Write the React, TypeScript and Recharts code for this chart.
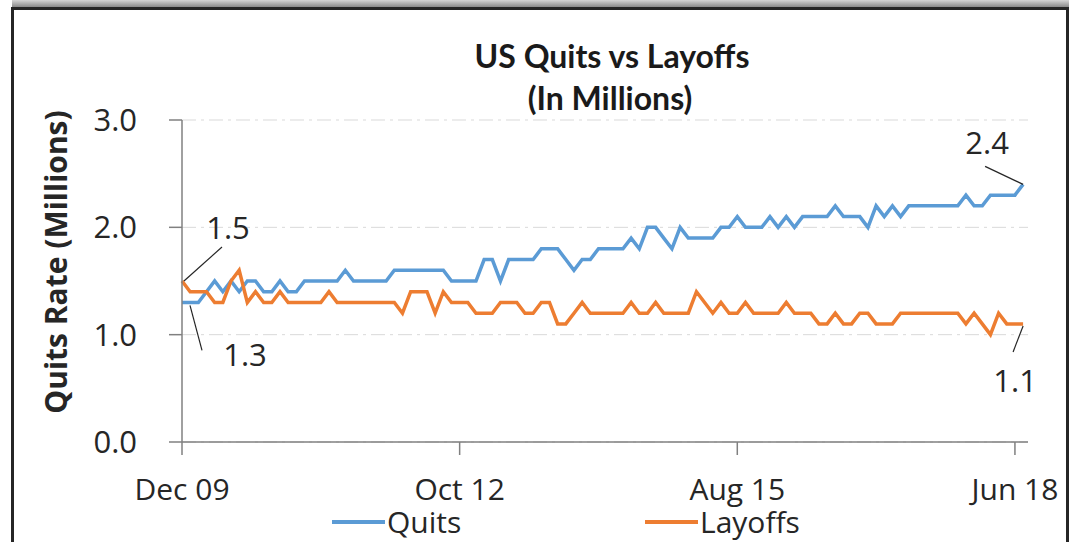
import {
  CartesianGrid,
  Label,
  LabelList,
  Line,
  LineChart,
  XAxis,
  YAxis,
} from "recharts";

// months since Dec 09 (0 = Dec 09, 103 = Jul 18)
const tickMonths = [0, 34, 68, 102];
const tickLabels = ["Dec 09", "Oct 12", "Aug 15", "Jun 18"];
const yTicks = [0, 1, 2, 3];

const quits = [
  1.3, 1.3, 1.3, 1.4, 1.5, 1.4, 1.5, 1.4, 1.5, 1.5,
  1.4, 1.4, 1.5, 1.4, 1.4, 1.5, 1.5, 1.5, 1.5, 1.5,
  1.6, 1.5, 1.5, 1.5, 1.5, 1.5, 1.6, 1.6, 1.6, 1.6,
  1.6, 1.6, 1.6, 1.5, 1.5, 1.5, 1.5, 1.7, 1.7, 1.5,
  1.7, 1.7, 1.7, 1.7, 1.8, 1.8, 1.8, 1.7, 1.6, 1.7,
  1.7, 1.8, 1.8, 1.8, 1.8, 1.9, 1.8, 2.0, 2.0, 1.9,
  1.8, 2.0, 1.9, 1.9, 1.9, 1.9, 2.0, 2.0, 2.1, 2.0,
  2.0, 2.0, 2.1, 2.0, 2.1, 2.0, 2.1, 2.1, 2.1, 2.1,
  2.2, 2.1, 2.1, 2.1, 2.0, 2.2, 2.1, 2.2, 2.1, 2.2,
  2.2, 2.2, 2.2, 2.2, 2.2, 2.2, 2.3, 2.2, 2.2, 2.3,
  2.3, 2.3, 2.3, 2.4,
];

const layoffs = [
  1.5, 1.4, 1.4, 1.4, 1.3, 1.3, 1.5, 1.6, 1.3, 1.4,
  1.3, 1.3, 1.4, 1.3, 1.3, 1.3, 1.3, 1.3, 1.4, 1.3,
  1.3, 1.3, 1.3, 1.3, 1.3, 1.3, 1.3, 1.2, 1.4, 1.4,
  1.4, 1.2, 1.4, 1.3, 1.3, 1.3, 1.2, 1.2, 1.2, 1.3,
  1.3, 1.3, 1.2, 1.2, 1.3, 1.3, 1.1, 1.1, 1.2, 1.3,
  1.2, 1.2, 1.2, 1.2, 1.2, 1.3, 1.2, 1.2, 1.3, 1.2,
  1.2, 1.2, 1.2, 1.4, 1.3, 1.2, 1.3, 1.2, 1.2, 1.3,
  1.2, 1.2, 1.2, 1.2, 1.3, 1.2, 1.2, 1.2, 1.1, 1.1,
  1.2, 1.1, 1.1, 1.2, 1.2, 1.1, 1.1, 1.1, 1.2, 1.2,
  1.2, 1.2, 1.2, 1.2, 1.2, 1.2, 1.1, 1.2, 1.1, 1.0,
  1.2, 1.1, 1.1, 1.1,
];

const chartData = quits.map((q, i) => ({
  month: i,
  quits: q,
  layoffs: layoffs[i],
}));
const lastIndex = quits.length - 1;

const QUITS_COLOR = "#5B9BD5";
const LAYOFFS_COLOR = "#ED7D31";
const AXIS_COLOR = "#808080";
const TEXT_COLOR = "#262626";
const FONT = "'Open Sans', 'DejaVu Sans', sans-serif";

// offsets of the end-point callouts, relative to the point
type Callout = {
  tx: number;
  ty: number;
  x1: number;
  y1: number;
  x2: number;
  y2: number;
};

const quitsCallouts: { first: Callout; last: Callout } = {
  first: { tx: 63, ty: 53, x1: 8, y1: 3, x2: 20, y2: 48 },
  last: { tx: -36, ty: -41, x1: -38, y1: -18, x2: 0, y2: 0 },
};

const layoffsCallouts: { first: Callout; last: Callout } = {
  first: { tx: 46, ty: -53, x1: 2, y1: 0, x2: 40, y2: -34 },
  last: { tx: -8, ty: 57, x1: 0, y1: 2, x2: -10, y2: 28 },
};

function calloutLabel(callouts: { first: Callout; last: Callout }) {
  return (props: any) => {
    const { index, value } = props;
    const vb = props.viewBox ?? {};
    const x = Number(props.x ?? vb.x);
    const y = Number(props.y ?? vb.y);
    const c =
      index === 0 ? callouts.first : index === lastIndex ? callouts.last : null;
    if (!c || !Number.isFinite(x) || !Number.isFinite(y)) return null;
    return (
      <g>
        <line
          x1={x + c.x1}
          y1={y + c.y1}
          x2={x + c.x2}
          y2={y + c.y2}
          stroke={TEXT_COLOR}
          strokeWidth={1.2}
        />
        <text
          x={x + c.tx}
          y={y + c.ty + 11}
          textAnchor="middle"
          fontFamily={FONT}
          fontWeight={400}
          fontSize={31}
          fill={TEXT_COLOR}
        >
          {Number(value).toFixed(1)}
        </text>
      </g>
    );
  };
}

function YTitle(props: any) {
  const vb = props.viewBox ?? { x: 0, y: 120, width: 182, height: 322 };
  const cx = vb.x + 55;
  const cy = vb.y + vb.height / 2 - 19;
  return (
    <text
      x={cx}
      y={cy}
      transform={`rotate(-90 ${cx} ${cy})`}
      textAnchor="middle"
      dominantBaseline="central"
      fontFamily={FONT}
      fontWeight={700}
      fontSize={30}
      fill={TEXT_COLOR}
    >
      Quits Rate (Millions)
    </text>
  );
}

function LegendItem({
  left,
  color,
  text,
}: {
  left: number;
  color: string;
  text: string;
}) {
  return (
    <div
      style={{
        position: "absolute",
        left,
        top: 507,
        display: "flex",
        alignItems: "center",
        fontFamily: FONT,
        fontSize: 30,
        lineHeight: "30px",
        color: TEXT_COLOR,
      }}
    >
      <span
        style={{
          display: "inline-block",
          width: 53,
          height: 4,
          background: color,
          marginRight: 2,
        }}
      />
      {text}
    </div>
  );
}

export default function App() {
  return (
    <div
      style={{
        position: "relative",
        width: 1071,
        height: 542,
        overflow: "hidden",
        background: "#fff",
      }}
    >
      <style>{"body{margin:0}"}</style>
      <div
        style={{
          position: "absolute",
          left: 12,
          top: 0,
          width: 1057,
          height: 7,
          background: "linear-gradient(#d6d6d6, #8a8a8a)",
        }}
      />
      <div
        style={{
          position: "absolute",
          left: 11,
          top: 7,
          width: 1058,
          height: 600,
          border: "3px solid #262626",
          boxSizing: "border-box",
        }}
      />
      <div style={{ position: "absolute", left: 0, top: 0 }}>
        <LineChart
          width={1071}
          height={542}
          data={chartData}
          margin={{ top: 120, right: 43, bottom: 0, left: 0 }}
        >
          <CartesianGrid
            vertical={false}
            stroke="#d9d9d9"
            strokeDasharray="14 5 3 5"
          />
          <XAxis
            dataKey="month"
            type="number"
            domain={[0, 103.6]}
            ticks={tickMonths}
            interval={0}
            height={100}
            tickFormatter={(v) => tickLabels[tickMonths.indexOf(Number(v))] ?? ""}
            tick={{ fill: TEXT_COLOR, fontSize: 30, fontFamily: FONT }}
            tickSize={13}
            tickMargin={24}
            axisLine={{ stroke: AXIS_COLOR, strokeWidth: 1.5 }}
            tickLine={{ stroke: AXIS_COLOR, strokeWidth: 1.5 }}
          />
          <YAxis
            width={182}
            domain={[0, 3]}
            ticks={yTicks}
            interval={0}
            tickFormatter={(v) => Number(v).toFixed(1)}
            tick={{ fill: TEXT_COLOR, fontSize: 31, fontFamily: FONT }}
            tickSize={13}
            tickMargin={32}
            axisLine={{ stroke: AXIS_COLOR, strokeWidth: 1.5 }}
            tickLine={{ stroke: AXIS_COLOR, strokeWidth: 1.5 }}
          >
            <Label content={<YTitle />} />
          </YAxis>
          <Line
            dataKey="quits"
            stroke={QUITS_COLOR}
            strokeWidth={3.5}
            dot={false}
            activeDot={false}
            isAnimationActive={false}
          >
            <LabelList dataKey="quits" content={calloutLabel(quitsCallouts)} />
          </Line>
          <Line
            dataKey="layoffs"
            stroke={LAYOFFS_COLOR}
            strokeWidth={3.5}
            dot={false}
            activeDot={false}
            isAnimationActive={false}
          >
            <LabelList
              dataKey="layoffs"
              content={calloutLabel(layoffsCallouts)}
            />
          </Line>
        </LineChart>
      </div>
      <svg
        width={1071}
        height={542}
        style={{ position: "absolute", left: 0, top: 0, pointerEvents: "none" }}
      >
        <text
          x={612}
          y={68}
          textAnchor="middle"
          fontFamily="Lato, 'Open Sans', sans-serif"
          fontWeight={700}
          fontSize={32}
          fill="#1a1a1a"
        >
          US Quits vs Layoffs
        </text>
        <text
          x={610}
          y={110}
          textAnchor="middle"
          fontFamily="Lato, 'Open Sans', sans-serif"
          fontWeight={700}
          fontSize={32}
          fill="#1a1a1a"
        >
          (In Millions)
        </text>
      </svg>
      <LegendItem left={332} color={QUITS_COLOR} text="Quits" />
      <LegendItem left={645} color={LAYOFFS_COLOR} text="Layoffs" />
    </div>
  );
}
